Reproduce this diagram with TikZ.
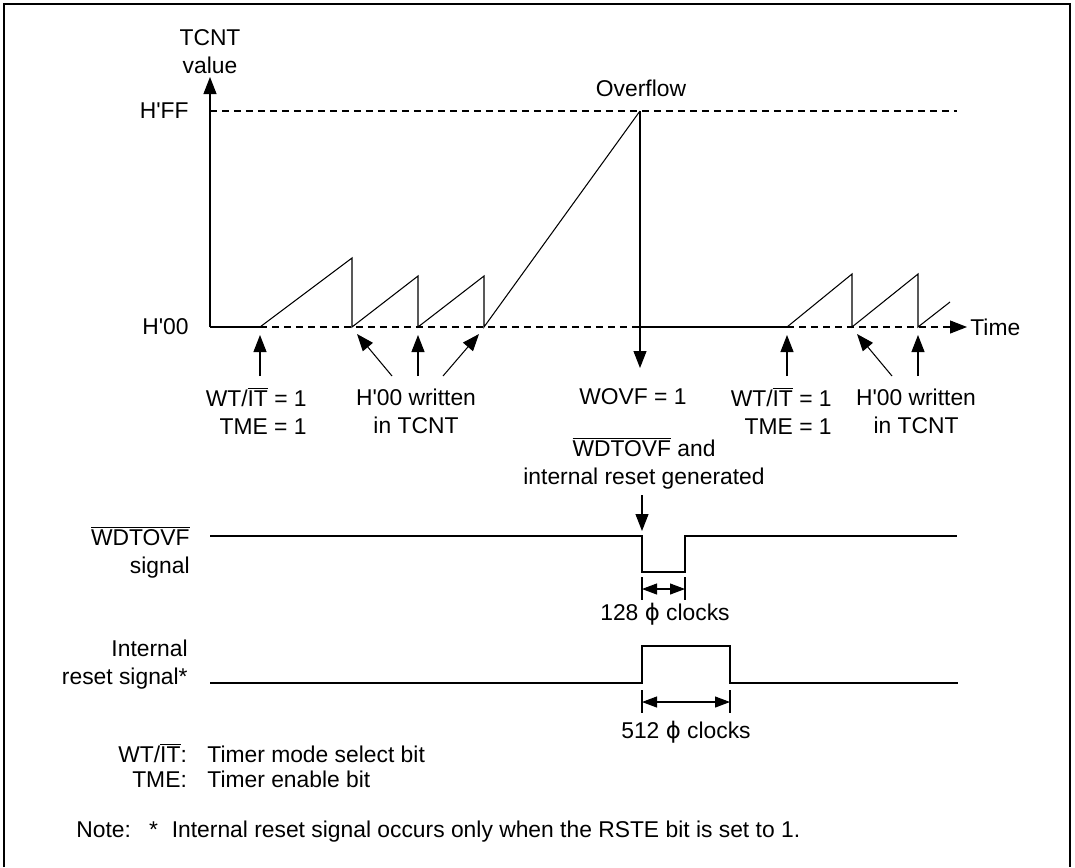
\documentclass[tikz,border=0pt]{standalone}
\usepackage{fontspec}
\setmainfont{Liberation Sans}
\newfontfamily\phifont{DejaVu Sans}
\usetikzlibrary{arrows.meta}
\newcommand{\ovl}[1]{$\overline{\mbox{#1}}$}
\newcommand{\hx}{H\textquotesingle}
\tikzset{
  lbl/.style={font=\fontsize{13}{16}\selectfont, inner sep=0pt, align=center},
  wave/.style={line width=0.6pt},
  guide/.style={line width=0.6pt, dash pattern=on 0.14cm off 0.1cm},
  pointer/.style={line width=0.6pt, -{Triangle[length=0.34cm,width=0.26cm]}},
  dim/.style={line width=0.6pt, {Triangle[length=0.3cm,width=0.22cm]}-{Triangle[length=0.3cm,width=0.22cm]}},
}
\begin{document}
\begin{tikzpicture}[x=0.02cm,y=-0.02cm]
  \useasboundingbox (0,0) rectangle (1075,867);
  \draw[line width=1.2pt] (4,867) -- (4,4) -- (1070,4) -- (1070,867);
  % counter axes
  \draw[pointer] (210,327) -- (210,77);
  \node[lbl] (tcnt) at (210,52) {TCNT\\value};
  \node[lbl,anchor=east] (hff) at (189,111) {\hx FF};
  \node[lbl,anchor=east] (h00) at (189,327) {\hx 00};
  \node[lbl] (ovf) at (641,88) {Overflow};
  \node[lbl,anchor=west] (time) at (970,327) {Time};
  \draw[guide] (210,111) -- (957,111);
  \draw[wave] (210,327) -- (260,327);
  \draw[guide] (260,327) -- (640,327);
  \draw[wave] (640,327) -- (787,327);
  \draw[guide,-{Triangle[length=0.34cm,width=0.26cm]}] (787,327) -- (967,327);
  % TCNT sawtooth
  \draw[wave] (260,327) -- (352,258) -- (352,327) -- (418,276) -- (418,327)
    -- (484,276) -- (484,327) -- (640,111);
  \draw[pointer] (640,111) -- (640,368);
  \draw[wave] (787,327) -- (852,274) -- (852,327) -- (918,274) -- (918,327) -- (950,302);
  % events
  \draw[pointer] (260,376) -- (260,335);
  \draw[pointer] (392,376) -- (357,334);
  \draw[pointer] (418,376) -- (418,335);
  \draw[pointer] (443,376) -- (479,334);
  \draw[pointer] (787,376) -- (787,335);
  \draw[pointer] (892,376) -- (857,334);
  \draw[pointer] (918,376) -- (918,335);
  \node[lbl,align=right,anchor=east] (start1) at (307,411) {WT/\ovl{IT} = 1\\TME = 1};
  \node[lbl] (clear1) at (416,411) {\hx 00 written\\in TCNT};
  \node[lbl] (wovf) at (633,397) {WOVF = 1};
  \node[lbl,align=right,anchor=east] (start2) at (832,411) {WT/\ovl{IT} = 1\\TME = 1};
  \node[lbl] (clear2) at (916,411) {\hx 00 written\\in TCNT};
  \node[lbl] (gen) at (644,463) {\ovl{WDTOVF} and\\internal reset generated};
  \draw[pointer] (642,495) -- (642,531);
  % WDTOVF output
  \node[lbl,align=right,anchor=east] (wdtlbl) at (190,552) {\ovl{WDTOVF}\\signal};
  \draw[wave] (210,536) -- (642,536) -- (642,572) -- (685,572) -- (685,536) -- (957,536);
  \draw[wave] (642,577) -- (642,600) (685,577) -- (685,600);
  \draw[dim] (642,589) -- (685,589);
  \node[lbl] (clk128) at (665,614) {128 {\phifont ϕ} clocks};
  % internal reset
  \node[lbl,align=right,anchor=east] (rstlbl) at (188,665) {Internal\\reset signal*};
  \draw[wave] (210,683) -- (642,683) -- (642,646) -- (730,646) -- (730,683) -- (958,683);
  \draw[wave] (642,690) -- (642,713) (730,690) -- (730,713);
  \draw[dim] (642,702) -- (730,702);
  \node[lbl] (clk512) at (686,732) {512 {\phifont ϕ} clocks};
  % legend
  \node[lbl,anchor=west,font=\fontsize{13}{14}\selectfont] (legend) at (118,769)
    {\begin{tabular}{@{}r@{\hspace{0.9em}}l@{}}
      WT/\ovl{IT}: & Timer mode select bit\\
      TME: & Timer enable bit
    \end{tabular}};
  \node[lbl,anchor=west] (note) at (76,832) {Note:\hspace{0.8em}*\hspace{0.6em}Internal reset signal occurs only when the RSTE bit is set to 1.};
\end{tikzpicture}
\end{document}
